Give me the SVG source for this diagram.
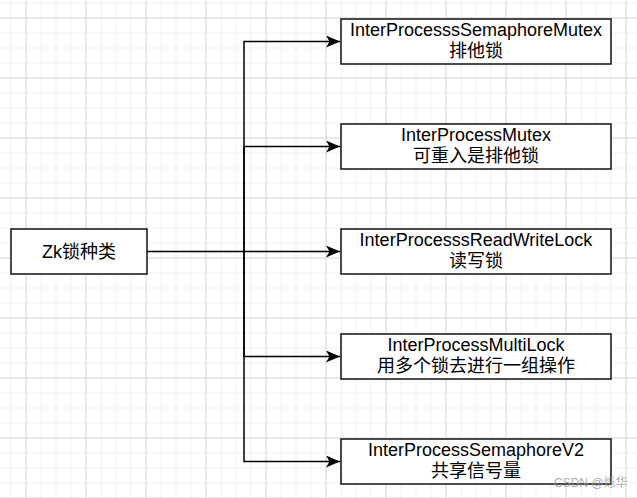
<svg xmlns="http://www.w3.org/2000/svg" width="637" height="498" viewBox="0 0 637 498">
<defs>
<pattern id="minor" x="10.5" y="2.5" width="15" height="15" patternUnits="userSpaceOnUse">
<path d="M0 0.5H15M0.5 0V15" fill="none" stroke="#f0f0f0" stroke-width="1"/>
</pattern>
<pattern id="major" x="25.5" y="17.5" width="60" height="60" patternUnits="userSpaceOnUse">
<path d="M0 0.5H60M0.5 0V60" fill="none" stroke="#d9d9d9" stroke-width="1"/>
</pattern>
<marker id="arrow" viewBox="0 0 14 12" refX="14" refY="6" markerWidth="14" markerHeight="12" markerUnits="userSpaceOnUse" orient="auto">
<path d="M0 0L14 6L0 12L3.5 6Z" fill="#000"/>
</marker>
</defs>
<style>
.node rect{fill:#fff;stroke:#111;stroke-width:1.5}
.node text{font-family:"Liberation Sans","Noto Sans CJK SC",sans-serif;font-size:18px;fill:#000;text-anchor:middle}
.conn path{fill:none;stroke:#000;stroke-width:1.5}
</style>
<rect width="637" height="498" fill="#fff"/>
<rect width="637" height="498" fill="url(#minor)"/>
<rect width="637" height="498" fill="url(#major)"/>
<g id="connectors" class="conn">
<path d="M147 251.5H244" stroke-width="2.5"/>
<path d="M244 251.5V41.5H340" marker-end="url(#arrow)"/>
<path d="M244 251.5V146.5H340" marker-end="url(#arrow)"/>
<path d="M244 251.5H340" marker-end="url(#arrow)"/>
<path d="M244 251.5V356.5H340" marker-end="url(#arrow)"/>
<path d="M244 251.5V461.5H340" marker-end="url(#arrow)"/>
</g>
<g id="root" class="node">
<rect x="11" y="229" width="136" height="45"/>
<text x="79" y="257.5">Zk锁种类</text>
</g>
<g id="n1" class="node">
<rect x="341" y="19" width="270" height="45"/>
<text x="476" y="36">InterProcesssSemaphoreMutex</text>
<text x="476" y="57">排他锁</text>
</g>
<g id="n2" class="node">
<rect x="341" y="124" width="270" height="45"/>
<text x="476" y="141">InterProcessMutex</text>
<text x="476" y="162">可重入是排他锁</text>
</g>
<g id="n3" class="node">
<rect x="341" y="229" width="270" height="45"/>
<text x="476" y="246">InterProcesssReadWriteLock</text>
<text x="476" y="267">读写锁</text>
</g>
<g id="n4" class="node">
<rect x="341" y="334" width="270" height="45"/>
<text x="476" y="351">InterProcessMultiLock</text>
<text x="476" y="372">用多个锁去进行一组操作</text>
</g>
<g id="n5" class="node">
<rect x="341" y="439" width="270" height="45"/>
<text x="476" y="456">InterProcessSemaphoreV2</text>
<text x="476" y="477">共享信号量</text>
</g>
<text x="554" y="487" font-family="Liberation Sans,Noto Sans CJK SC,sans-serif" font-size="12" fill="#999" opacity="0.8">CSDN @烁华</text>
</svg>
